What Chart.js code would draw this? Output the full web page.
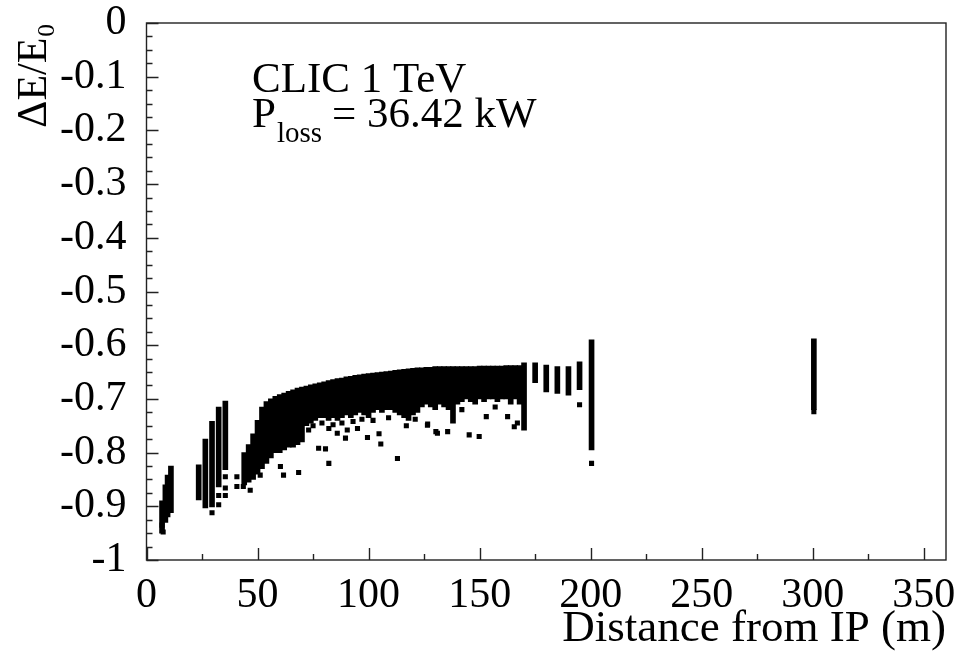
<!DOCTYPE html>
<html>
<head>
<meta charset="utf-8">
<script src="https://cdn.jsdelivr.net/npm/chart.js@4"></script>
<style>
  html, body { margin: 0; padding: 0; background: #fff; }
  #wrap { width: 959px; height: 656px; }
</style>
</head>
<body>
<div id="wrap"><canvas id="c" width="959" height="656"></canvas></div>
<script>
// ── Data ────────────────────────────────────────────────────
// isolated loss locations: vertical spread of dE/E0 at each distance (m)
const lineX    = [7, 8.5, 9.5, 11, 23.5, 26.5, 29.5, 32.5, 35.5, 175, 180, 185, 190, 195, 200.4, 300.5];
const lineHigh = [-0.89, -0.86, -0.842, -0.825, -0.823, -0.775, -0.742, -0.715, -0.704, -0.633, -0.637, -0.64, -0.64, -0.631, -0.59, -0.588];
const lineLow  = [-0.95, -0.93, -0.92, -0.912, -0.888, -0.903, -0.901, -0.864, -0.832, -0.67, -0.687, -0.69, -0.693, -0.683, -0.795, -0.72];

// dense band between ~44 m and ~170 m, top and bottom edge per 2 m slice
const bandX = [44, 46, 48, 50, 52, 54, 56, 58, 60, 62, 64, 66, 68, 70, 72, 74, 76, 78, 80,
  82, 84, 86, 88, 90, 92, 94, 96, 98, 100, 102, 104, 106, 108, 110, 112, 114, 116, 118, 120,
  122, 124, 126, 128, 130, 132, 134, 136, 138, 140, 142, 144, 146, 148, 150, 152, 154, 156,
  158, 160, 162, 164, 166, 168, 170];
const bandHigh = [-0.80, -0.785, -0.765, -0.74, -0.715, -0.705, -0.70, -0.695, -0.692, -0.689,
  -0.686, -0.683, -0.68, -0.678, -0.676, -0.674, -0.672, -0.67, -0.668, -0.666, -0.664, -0.662,
  -0.661, -0.659, -0.658, -0.656, -0.655, -0.654, -0.653, -0.652, -0.651, -0.65, -0.649, -0.648,
  -0.647, -0.646, -0.645, -0.644, -0.643, -0.642, -0.642, -0.641, -0.641, -0.64, -0.64, -0.64,
  -0.64, -0.64, -0.64, -0.64, -0.64, -0.64, -0.64, -0.639, -0.639, -0.639, -0.639, -0.639,
  -0.639, -0.638, -0.638, -0.638, -0.638, -0.633];
const bandLow = [-0.86, -0.855, -0.85, -0.84, -0.83, -0.82, -0.81, -0.80, -0.80, -0.795, -0.79,
  -0.79, -0.785, -0.78, -0.75, -0.745, -0.74, -0.735, -0.735, -0.74, -0.735, -0.74, -0.735,
  -0.73, -0.735, -0.73, -0.725, -0.73, -0.735, -0.725, -0.72, -0.725, -0.72, -0.72, -0.725,
  -0.73, -0.735, -0.74, -0.73, -0.725, -0.715, -0.71, -0.715, -0.72, -0.71, -0.715, -0.72,
  -0.745, -0.71, -0.705, -0.70, -0.705, -0.71, -0.70, -0.705, -0.70, -0.70, -0.705, -0.70,
  -0.70, -0.71, -0.70, -0.71, -0.758];

// single scattered losses
const looseX = [7, 7.5, 29.5, 32.5, 32.5, 35.5, 35.5, 35.5, 40.7, 40.7, 43.6, 46.7, 51.2,
  60.3, 61.7, 68.5, 77.5, 80.6, 82.1, 82.1, 85.9, 89.6, 90.4, 95, 99.5, 104.7, 105.5, 113,
  126.5, 126.6, 130.3, 131, 135.6, 145.3, 149.8, 153, 162.6, 165.6, 195, 200.4, 300.5,
  73, 75, 79, 84, 88, 93, 97, 102, 109, 117, 121, 142, 157, 167];
const looseY = [-0.935, -0.948, -0.912, -0.88, -0.897, -0.845, -0.866, -0.88, -0.845, -0.863,
  -0.863, -0.87, -0.842, -0.826, -0.842, -0.837, -0.792, -0.793, -0.82, -0.755, -0.764,
  -0.773, -0.758, -0.755, -0.772, -0.765, -0.784, -0.811, -0.749, -0.747, -0.761, -0.764,
  -0.761, -0.767, -0.77, -0.733, -0.733, -0.752, -0.711, -0.82, -0.724,
  -0.758, -0.75, -0.745, -0.748, -0.745, -0.742, -0.738, -0.74, -0.735, -0.75, -0.738,
  -0.72, -0.715, -0.745];

const xRange = [0, 360];
const yRange = [-1, 0];
const xTitle = 'Distance from IP (m)';
const yTitle = 'ΔE/E₀';
const label1 = 'CLIC 1 TeV';
const label2 = ['P', 'loss', '= 36.42 kW'];

// ── Helpers ─────────────────────────────────────────────────
const SERIF = "'Liberation Serif', 'Times New Roman', serif";
const isMult = (v, step) => Math.abs(Math.round(v / step) * step - v) < 1e-6;

const frameAndTicks = {
  id: 'frameAndTicks',
  afterDraw(chart) {
    const { ctx, chartArea: a, scales: { x, y } } = chart;
    ctx.save();
    ctx.strokeStyle = '#222';
    ctx.lineWidth = 1.4;
    ctx.strokeRect(a.left, a.top, a.right - a.left, a.bottom - a.top);
    ctx.beginPath();
    x.ticks.forEach(t => {
      if (!isMult(t.value, 25)) return;
      const px = Math.round(x.getPixelForValue(t.value)) + 0.5;
      const len = isMult(t.value, 50) ? 12 : 6;
      ctx.moveTo(px, a.bottom);
      ctx.lineTo(px, a.bottom - len);
    });
    y.ticks.forEach(t => {
      if (!isMult(t.value, 0.025)) return;
      const py = Math.round(y.getPixelForValue(t.value)) + 0.5;
      const len = isMult(t.value, 0.1) ? 12 : 6;
      ctx.moveTo(a.left, py);
      ctx.lineTo(a.left + len, py);
    });
    ctx.stroke();

    // labels inside the frame
    ctx.fillStyle = '#000';
    ctx.textBaseline = 'alphabetic';
    ctx.font = '43px ' + SERIF;
    ctx.fillText(label1, 252, 92);
    let px = 252;
    ctx.fillText(label2[0], px, 127);
    px += ctx.measureText(label2[0]).width + 1;
    ctx.font = '29px ' + SERIF;
    ctx.fillText(label2[1], px, 142);
    px += ctx.measureText(label2[1]).width + 10;
    ctx.font = '43px ' + SERIF;
    ctx.fillText(label2[2], px, 127);
    ctx.restore();
  }
};

// ── Chart ───────────────────────────────────────────────────
const ctx = document.getElementById('c').getContext('2d');
new Chart(ctx, {
  type: 'bar',
  data: {
    datasets: [
      {
        type: 'bar',
        data: bandX.map((v, i) => ({ x: v, y: [bandLow[i], bandHigh[i]] })),
        backgroundColor: '#000',
        barThickness: 5,
        grouped: false
      },
      {
        type: 'bar',
        data: lineX.map((v, i) => ({ x: v, y: [lineLow[i], lineHigh[i]] })),
        backgroundColor: '#000',
        barThickness: 5,
        grouped: false
      },
      {
        type: 'scatter',
        data: looseX.map((v, i) => ({ x: v, y: looseY[i] })),
        backgroundColor: '#000',
        borderWidth: 0,
        pointStyle: 'rect',
        pointRadius: 3.6
      }
    ]
  },
  options: {
    responsive: false,
    animation: false,
    layout: { padding: { top: 23, right: 13, left: 0, bottom: 0 } },
    plugins: { legend: { display: false }, tooltip: { enabled: false } },
    scales: {
      x: {
        type: 'linear',
        offset: false,
        min: xRange[0],
        max: xRange[1],
        grid: { display: false, drawTicks: false, tickLength: 0 },
        border: { display: false },
        ticks: {
          stepSize: 25,
          includeBounds: false,
          autoSkip: false,
          maxRotation: 0,
          padding: 11,
          color: '#000',
          font: { family: SERIF, size: 42 },
          callback: v => isMult(v, 50) ? String(v) : ''
        },
        title: {
          display: true,
          text: xTitle,
          align: 'end',
          color: '#000',
          font: { family: SERIF, size: 45 },
          padding: { top: 0, bottom: 0 }
        },
        afterFit: s => {
          s.height = 96;
          s.paddingLeft = 0;
          s.paddingRight = 0;
        }
      },
      y: {
        type: 'linear',
        min: yRange[0],
        max: yRange[1],
        grid: { display: false, drawTicks: false, tickLength: 0 },
        border: { display: false },
        ticks: {
          stepSize: 0.025,
          includeBounds: false,
          autoSkip: false,
          padding: 20,
          color: '#000',
          font: { family: SERIF, size: 42 },
          callback: v => isMult(v, 0.1) ? String(Math.round(v * 10) / 10) : ''
        },
        title: {
          display: true,
          text: yTitle,
          align: 'end',
          color: '#000',
          font: { family: SERIF, size: 42 },
          padding: { top: 10, bottom: 0 }
        },
        afterFit: s => {
          s.width = 146.5;
          s.paddingTop = 0;
          s.paddingBottom = 0;
        }
      }
    }
  },
  plugins: [frameAndTicks]
});
</script>
</body>
</html>
